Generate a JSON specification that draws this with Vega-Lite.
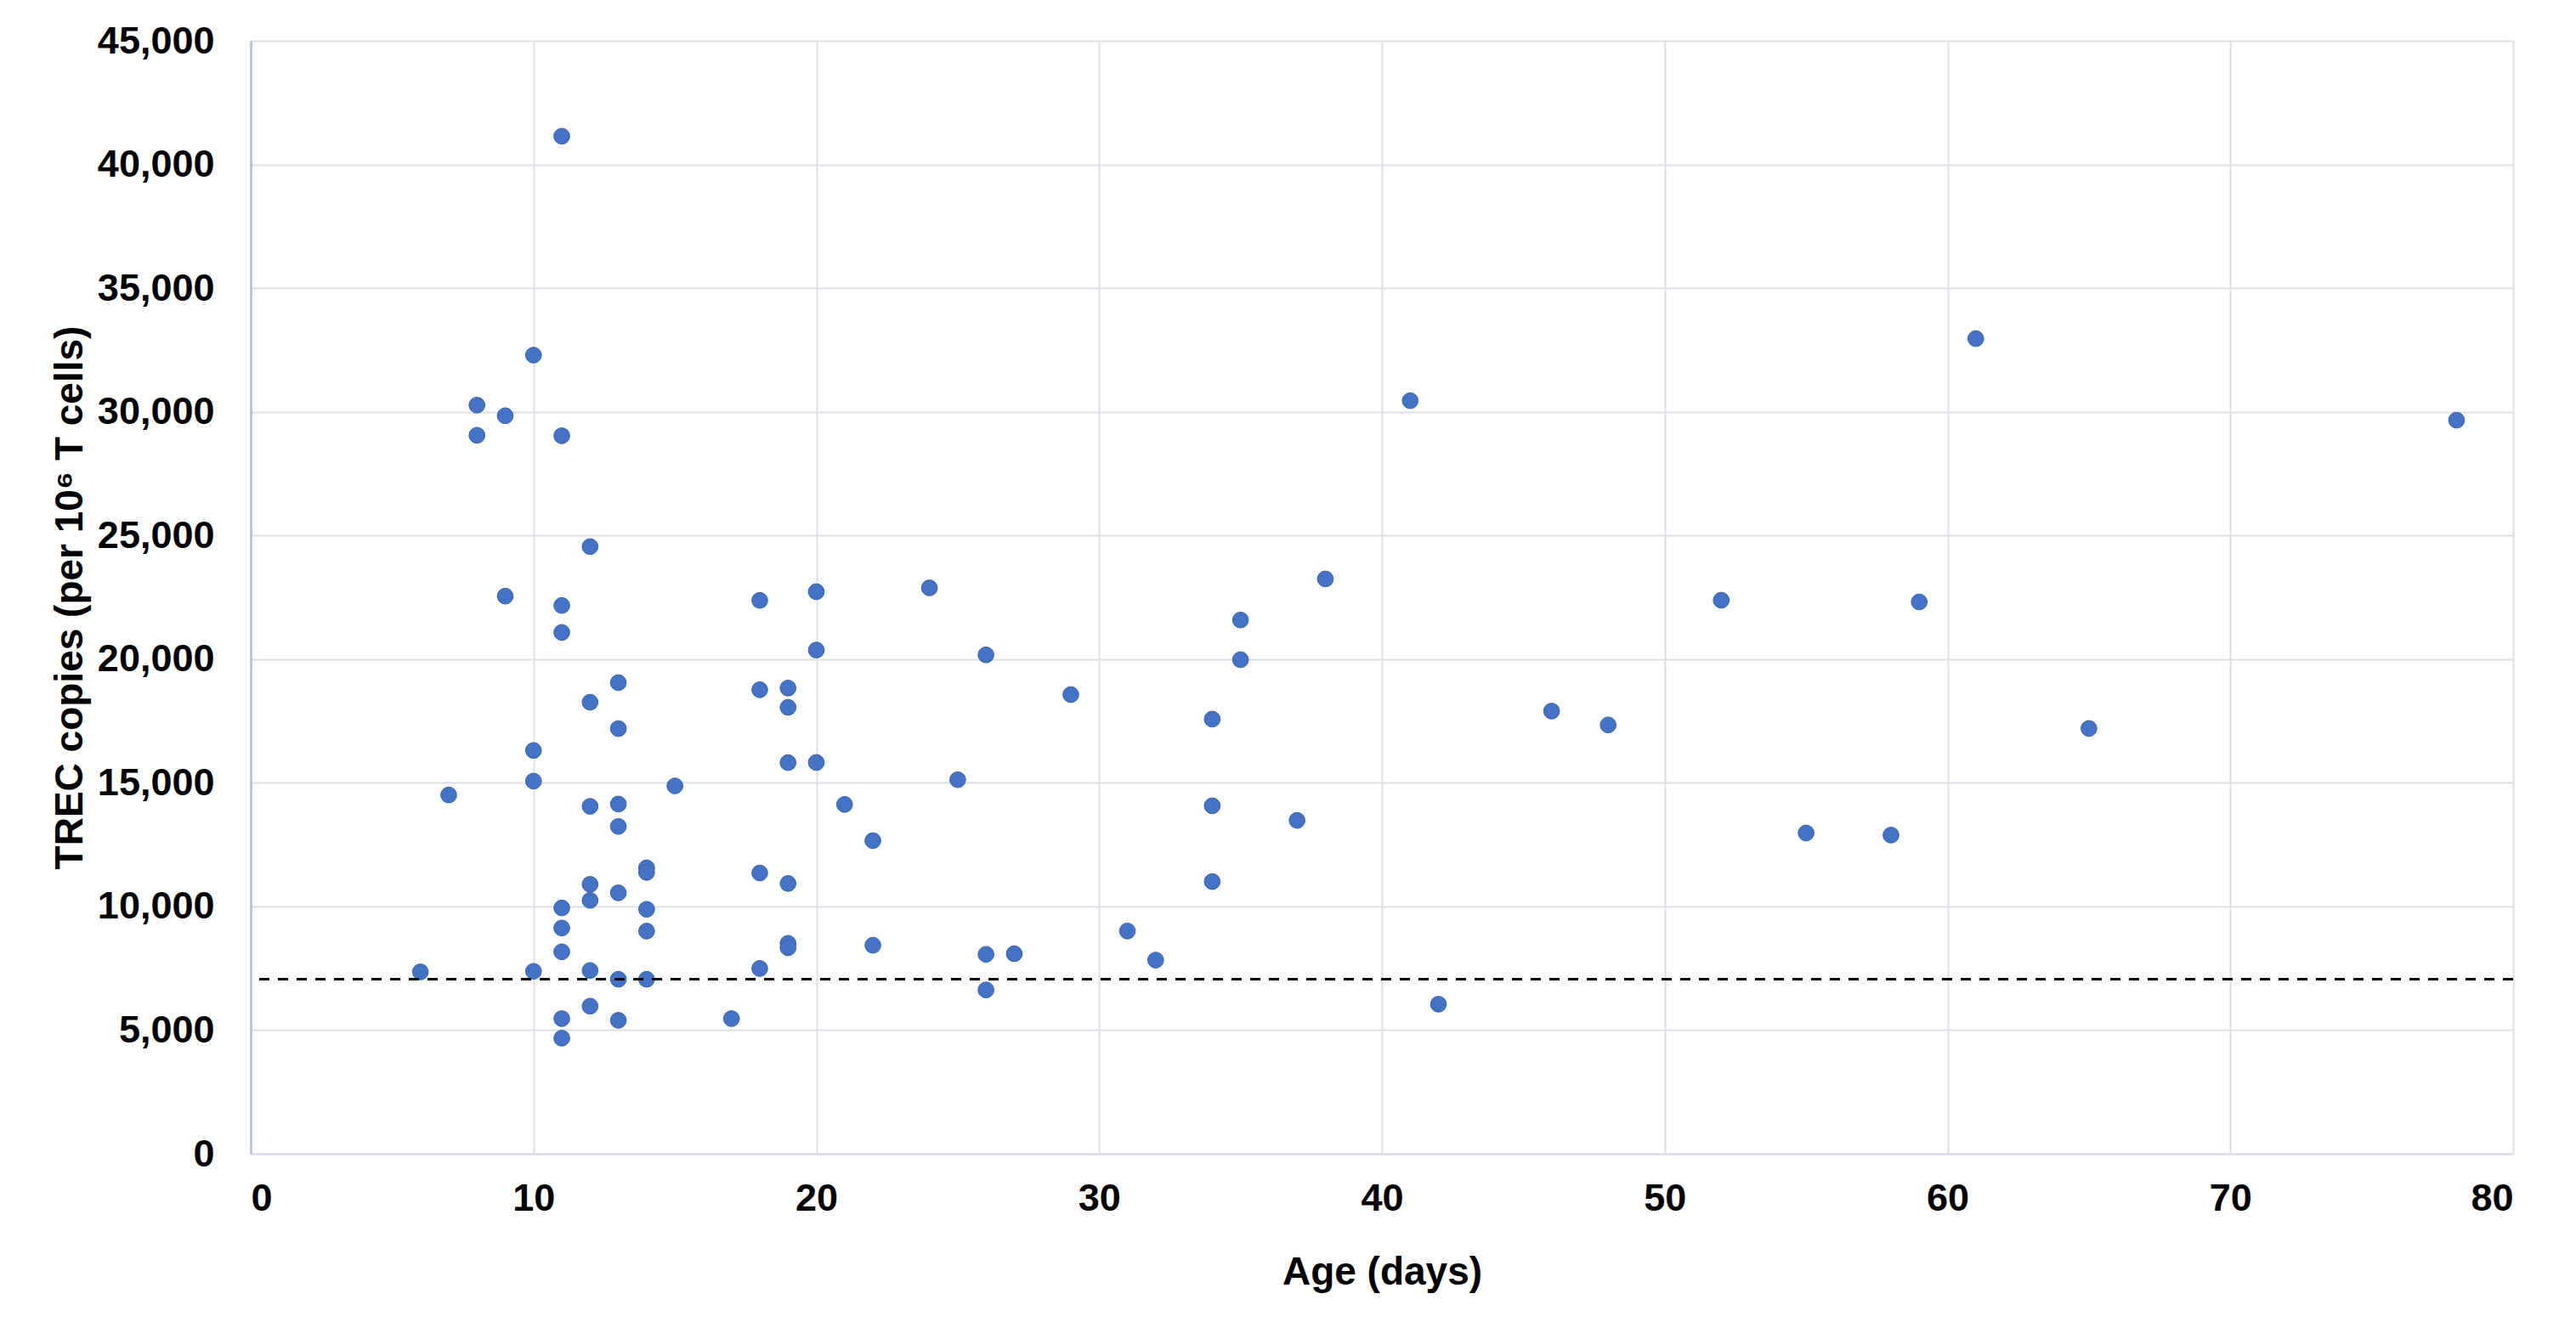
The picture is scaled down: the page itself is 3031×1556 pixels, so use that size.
{
  "$schema": "https://vega.github.io/schema/vega-lite/v6.json",
  "width": 2662,
  "height": 1310,
  "autosize": {"type": "none"},
  "padding": {"left": 295, "top": 48, "right": 74, "bottom": 198},
  "background": "white",
  "config": {
    "font": "Liberation Sans",
    "view": {"stroke": null},
    "axis": {
      "grid": true,
      "gridColor": "#dcdfe8",
      "gridWidth": 2,
      "ticks": false,
      "tickSize": 0,
      "labelFont": "Liberation Sans",
      "labelFontWeight": "bold",
      "labelColor": "black",
      "titleFont": "Liberation Sans",
      "titleFontWeight": "bold",
      "titleColor": "black"
    }
  },
  "datasets": {
    "patients": [
      {"age": 6, "trec": 7354},
      {"age": 7, "trec": 14507},
      {"age": 8, "trec": 30270},
      {"age": 8, "trec": 29050},
      {"age": 9, "trec": 29840},
      {"age": 9, "trec": 22546},
      {"age": 10, "trec": 32290},
      {"age": 10, "trec": 16307},
      {"age": 10, "trec": 15069},
      {"age": 10, "trec": 7377},
      {"age": 11, "trec": 41142},
      {"age": 11, "trec": 29030},
      {"age": 11, "trec": 22167},
      {"age": 11, "trec": 21078},
      {"age": 11, "trec": 9940},
      {"age": 11, "trec": 9129},
      {"age": 11, "trec": 8167},
      {"age": 11, "trec": 5464},
      {"age": 11, "trec": 4674},
      {"age": 12, "trec": 24550},
      {"age": 12, "trec": 18257},
      {"age": 12, "trec": 14048},
      {"age": 12, "trec": 10894},
      {"age": 12, "trec": 10245},
      {"age": 12, "trec": 7411},
      {"age": 12, "trec": 5968},
      {"age": 13, "trec": 19048},
      {"age": 13, "trec": 17190},
      {"age": 13, "trec": 14140},
      {"age": 13, "trec": 13234},
      {"age": 13, "trec": 10550},
      {"age": 13, "trec": 7056},
      {"age": 13, "trec": 5395},
      {"age": 14, "trec": 11560},
      {"age": 14, "trec": 11376},
      {"age": 14, "trec": 9885},
      {"age": 14, "trec": 9003},
      {"age": 14, "trec": 7056},
      {"age": 15, "trec": 14874},
      {"age": 17, "trec": 5464},
      {"age": 18, "trec": 22374},
      {"age": 18, "trec": 18761},
      {"age": 18, "trec": 11353},
      {"age": 18, "trec": 7492},
      {"age": 19, "trec": 18830},
      {"age": 19, "trec": 18050},
      {"age": 19, "trec": 15814},
      {"age": 19, "trec": 10929},
      {"age": 19, "trec": 8510},
      {"age": 19, "trec": 8330},
      {"age": 20, "trec": 22725},
      {"age": 20, "trec": 20367},
      {"age": 20, "trec": 15820},
      {"age": 21, "trec": 14125},
      {"age": 22, "trec": 12660},
      {"age": 22, "trec": 8431},
      {"age": 24, "trec": 22880},
      {"age": 25, "trec": 15123},
      {"age": 26, "trec": 20172},
      {"age": 26, "trec": 8064},
      {"age": 26, "trec": 6624},
      {"age": 27, "trec": 8088},
      {"age": 29, "trec": 18566},
      {"age": 31, "trec": 9007},
      {"age": 32, "trec": 7831},
      {"age": 34, "trec": 17574},
      {"age": 34, "trec": 14069},
      {"age": 34, "trec": 11005},
      {"age": 35, "trec": 21581},
      {"age": 35, "trec": 19976},
      {"age": 37, "trec": 13480},
      {"age": 38, "trec": 23242},
      {"age": 41, "trec": 30448},
      {"age": 42, "trec": 6048},
      {"age": 46, "trec": 17899},
      {"age": 48, "trec": 17339},
      {"age": 52, "trec": 22381},
      {"age": 55, "trec": 12969},
      {"age": 58, "trec": 12885},
      {"age": 59, "trec": 22311},
      {"age": 61, "trec": 32958},
      {"age": 65, "trec": 17196},
      {"age": 78, "trec": 29660}
    ],
    "cutoff": [
      {"trec": 7060}
    ]
  },
  "layer": [
    {
      "data": {"name": "patients"},
      "mark": {
        "type": "point",
        "shape": "circle",
        "filled": true,
        "size": 350,
        "color": "#4472c4",
        "stroke": "#3a63ad",
        "strokeWidth": 1,
        "opacity": 1
      },
      "encoding": {
        "x": {
          "field": "age",
          "type": "quantitative",
          "title": "Age (days)",
          "scale": {"domain": [0, 80], "nice": false},
          "axis": {
            "values": [0, 10, 20, 30, 40, 50, 60, 70, 80],
            "format": "d",
            "labelFontSize": 45,
            "labelPadding": 30,
            "labelBaseline": "top",
            "domainColor": "#d9dce6",
            "domainWidth": 2,
            "titleFontSize": 46,
            "titleY": 139,
            "titleBaseline": "middle"
          }
        },
        "y": {
          "field": "trec",
          "type": "quantitative",
          "title": "TREC copies (per 10⁶ T cells)",
          "scale": {"domain": [0, 45000], "nice": false},
          "axis": {
            "values": [0, 5000, 10000, 15000, 20000, 25000, 30000, 35000, 40000, 45000],
            "format": ",.0f",
            "labelFontSize": 45,
            "labelPadding": 43,
            "domainColor": "#b5bddb",
            "domainWidth": 2.5,
            "titleFontSize": 46,
            "titleX": -213,
            "titleBaseline": "middle"
          }
        }
      }
    },
    {
      "data": {"name": "cutoff"},
      "mark": {
        "type": "rule",
        "color": "black",
        "strokeWidth": 3,
        "strokeDash": [12, 10]
      },
      "encoding": {
        "y": {"field": "trec", "type": "quantitative"}
      }
    }
  ]
}
